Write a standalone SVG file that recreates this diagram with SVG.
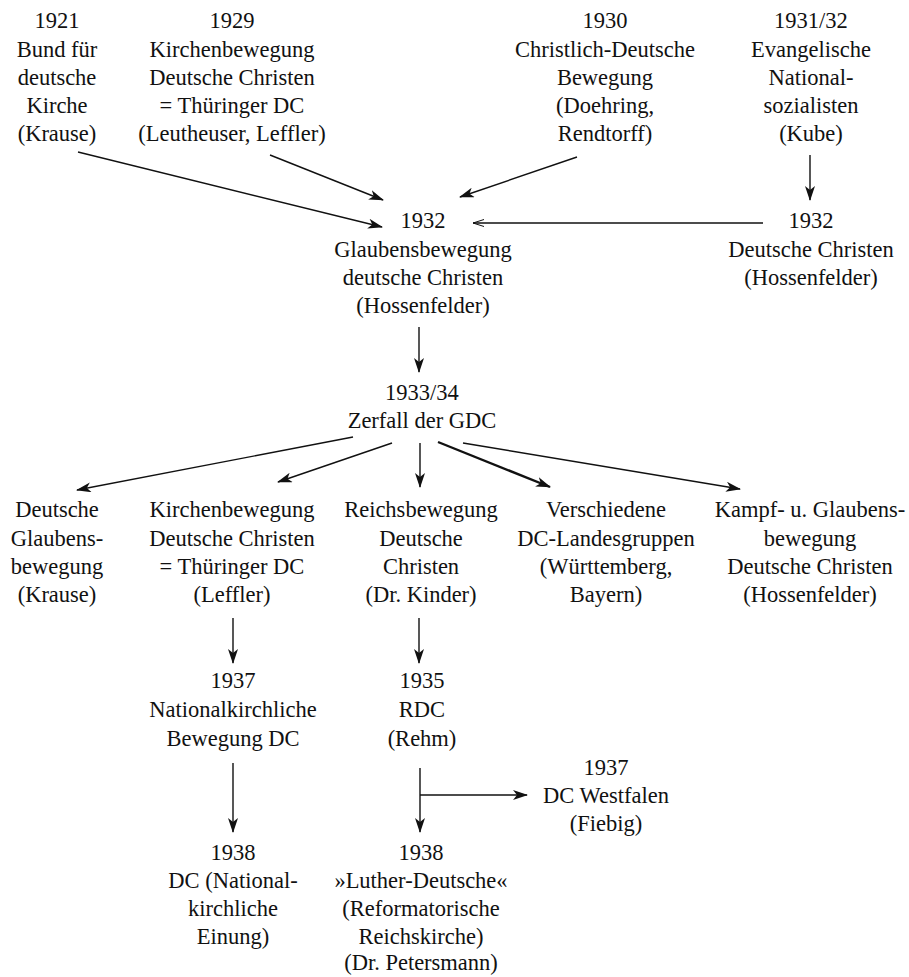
<svg xmlns="http://www.w3.org/2000/svg" width="909" height="977" viewBox="0 0 909 977">
<defs>
<style>
text{font-family:"Liberation Serif","Times New Roman",serif;font-size:22.5px;fill:#111;text-anchor:middle}
.c line{stroke:#111;stroke-width:1.4;fill:none}
.c .thick{stroke-width:2.4}
</style>
<marker id="ah" markerUnits="userSpaceOnUse" markerWidth="15" markerHeight="10" viewBox="0 0 15 10" refX="14" refY="5" orient="auto">
<path d="M0,0 L15,5 L0,10 L4,5 z" fill="#111"/>
</marker>
<marker id="thin" markerUnits="userSpaceOnUse" markerWidth="16" markerHeight="10" viewBox="0 0 16 10" refX="15" refY="5" orient="auto">
<path d="M4,1.5 L15,5 L4,8.5" fill="none" stroke="#111" stroke-width="1"/>
</marker>
</defs>
<rect width="909" height="977" fill="#fff"/>

<g class="c" id="connectors">
<line x1="78" y1="152" x2="382" y2="227" marker-end="url(#ah)"/>
<line x1="270" y1="155" x2="383" y2="200" marker-end="url(#ah)"/>
<line x1="577" y1="157" x2="460" y2="197" marker-end="url(#ah)"/>
<line x1="810" y1="155" x2="810" y2="200" marker-end="url(#ah)"/>
<line x1="763" y1="223" x2="473" y2="223" marker-end="url(#thin)"/>
<line x1="419" y1="327" x2="419" y2="372" marker-end="url(#ah)"/>
<line x1="353" y1="437" x2="77" y2="490" marker-end="url(#ah)"/>
<line x1="392" y1="443" x2="278" y2="482" marker-end="url(#ah)"/>
<line x1="420" y1="443" x2="420" y2="487" marker-end="url(#ah)"/>
<line class="thick" x1="438" y1="442" x2="550" y2="487" marker-end="url(#ah)"/>
<line x1="463" y1="443" x2="740" y2="489" marker-end="url(#ah)"/>
<line x1="233" y1="618" x2="233" y2="663" marker-end="url(#ah)"/>
<line x1="419" y1="618" x2="419" y2="663" marker-end="url(#ah)"/>
<line x1="233" y1="763" x2="233" y2="832" marker-end="url(#ah)"/>
<line x1="420" y1="768" x2="420" y2="832" marker-end="url(#ah)"/>
<line x1="420" y1="795" x2="527" y2="795" marker-end="url(#ah)"/>
</g>

<g id="n1921"><text x="57" y="28">1921</text><text x="57" y="56.5">Bund für</text><text x="57" y="85">deutsche</text><text x="57" y="113">Kirche</text><text x="57" y="141">(Krause)</text></g>
<g id="n1929"><text x="232" y="28">1929</text><text x="232" y="56.5">Kirchenbewegung</text><text x="232" y="85">Deutsche Christen</text><text x="232" y="113">= Thüringer DC</text><text x="232" y="141">(Leutheuser, Leffler)</text></g>
<g id="n1930"><text x="605" y="28">1930</text><text x="605" y="56.5">Christlich-Deutsche</text><text x="605" y="85">Bewegung</text><text x="605" y="113">(Doehring,</text><text x="605" y="141">Rendtorff)</text></g>
<g id="n1931"><text x="811" y="28">1931/32</text><text x="811" y="56.5">Evangelische</text><text x="811" y="85">National-</text><text x="811" y="113">sozialisten</text><text x="811" y="141">(Kube)</text></g>

<g id="n1932gdc"><text x="423" y="228">1932</text><text x="423" y="256.5">Glaubensbewegung</text><text x="423" y="285">deutsche Christen</text><text x="423" y="313">(Hossenfelder)</text></g>
<g id="n1932dc"><text x="811" y="228">1932</text><text x="811" y="256.5">Deutsche Christen</text><text x="811" y="285">(Hossenfelder)</text></g>

<g id="nzerfall"><text x="422" y="400">1933/34</text><text x="422" y="428">Zerfall der GDC</text></g>

<g id="c1"><text x="57" y="517">Deutsche</text><text x="57" y="545.5">Glaubens-</text><text x="57" y="574">bewegung</text><text x="57" y="602">(Krause)</text></g>
<g id="c2"><text x="232" y="517">Kirchenbewegung</text><text x="232" y="545.5">Deutsche Christen</text><text x="232" y="574">= Thüringer DC</text><text x="232" y="602">(Leffler)</text></g>
<g id="c3"><text x="421" y="517">Reichsbewegung</text><text x="421" y="545.5">Deutsche</text><text x="421" y="574">Christen</text><text x="421" y="602">(Dr. Kinder)</text></g>
<g id="c4"><text x="606" y="517">Verschiedene</text><text x="606" y="545.5">DC-Landesgruppen</text><text x="606" y="574">(Württemberg,</text><text x="606" y="602">Bayern)</text></g>
<g id="c5"><text x="810" y="517">Kampf- u. Glaubens-</text><text x="810" y="545.5">bewegung</text><text x="810" y="574">Deutsche Christen</text><text x="810" y="602">(Hossenfelder)</text></g>

<g id="d1"><text x="233" y="688">1937</text><text x="233" y="717">Nationalkirchliche</text><text x="233" y="746">Bewegung DC</text></g>
<g id="d2"><text x="422" y="688">1935</text><text x="422" y="717">RDC</text><text x="422" y="746">(Rehm)</text></g>
<g id="westfalen"><text x="606" y="775">1937</text><text x="606" y="803">DC Westfalen</text><text x="606" y="831">(Fiebig)</text></g>

<g id="e1"><text x="233" y="860">1938</text><text x="233" y="888">DC (National-</text><text x="233" y="916">kirchliche</text><text x="233" y="944">Einung)</text></g>
<g id="e2"><text x="421" y="860">1938</text><text x="421" y="888">»Luther-Deutsche«</text><text x="421" y="916">(Reformatorische</text><text x="421" y="944">Reichskirche)</text><text x="421" y="970">(Dr. Petersmann)</text></g>
</svg>
